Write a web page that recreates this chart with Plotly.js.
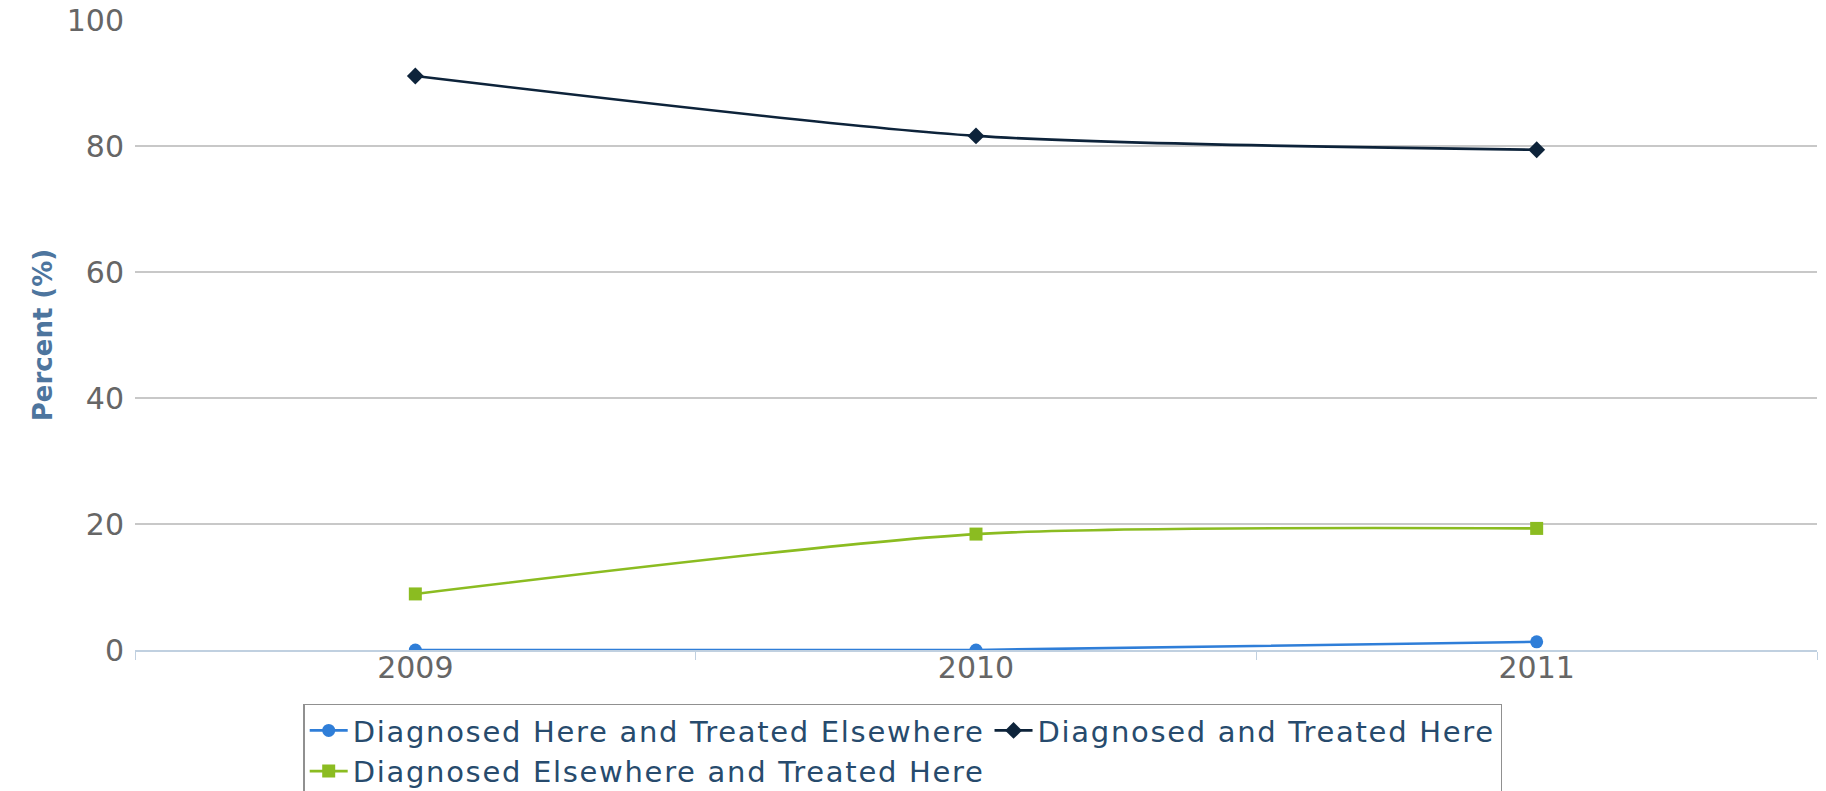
<!DOCTYPE html>
<html>
<head>
<meta charset="utf-8">
<script src="https://cdn.plot.ly/plotly-3.0.1.min.js"></script>
<style>
html,body{margin:0;padding:0;background:#fff;}
#chart{width:1826px;height:791px;}
.legendtext{letter-spacing:1.7px;}
</style>
</head>
<body>
<div id="chart"></div>
<script>
var years = ["2009", "2010", "2011"];
var seriesNames = ["Diagnosed Here and Treated Elsewhere", "Diagnosed and Treated Here", "Diagnosed Elsewhere and Treated Here"];
var hereElsewhere = [0, 0, 1.3];
var bothHere = [91.1, 81.6, 79.4];
var elsewhereHere = [8.9, 18.4, 19.3];
var yTicks = [0, 20, 40, 60, 80, 100];

var colors = ["#2f7ed8", "#0d233a", "#8bbc21"];
var symbols = ["circle", "diamond", "square"];
var values = [hereElsewhere, bothHere, elsewhereHere];

var traces = values.map(function (v, i) {
  return {
    x: years, y: v, name: seriesNames[i], type: "scatter", mode: "lines+markers",
    line: {color: colors[i], width: 2.6, shape: "spline", smoothing: 0.7},
    marker: {color: colors[i], symbol: symbols[i], size: 13},
    hoverinfo: "skip"
  };
});

var layout = {
  width: 1826, height: 791,
  margin: {l: 135, r: 9, t: 20, b: 141, autoexpand: false},
  paper_bgcolor: "#ffffff", plot_bgcolor: "#ffffff",
  font: {family: "DejaVu Sans", color: "#666666"},
  showlegend: true,
  xaxis: {
    type: "category", range: [-0.5, 2.5], tickvals: years, ticktext: years,
    tickson: "boundaries", ticks: "outside", ticklen: 8, tickcolor: "#C0D0E0", tickwidth: 1,
    ticklabelstandoff: -10,
    showline: true, linecolor: "#C0D0E0", linewidth: 1.5, showgrid: false, zeroline: false,
    tickfont: {family: "DejaVu Sans", size: 30, color: "#666666"}, fixedrange: true
  },
  yaxis: {
    range: [0, 100], tickvals: yTicks, ticktext: yTicks.map(String),
    showgrid: true, gridcolor: "#C8C8C8", gridwidth: 1.5, zeroline: false, showline: false,
    ticks: "", ticklabelstandoff: 10,
    tickfont: {family: "DejaVu Sans", size: 30, color: "#666666"},
    title: {text: "<b>Percent (%)</b>", font: {family: "DejaVu Sans", size: 26, color: "#4d759e"}, standoff: 6},
    fixedrange: true
  },
  legend: {
    orientation: "h", x: 0.1, xanchor: "left", y: -0.085, yanchor: "top",
    bordercolor: "#909090", borderwidth: 1.5, bgcolor: "#ffffff",
    font: {family: "DejaVu Sans", size: 29, color: "#274b6d"},
    itemsizing: "trace", itemwidth: 38, tracegroupgap: 0
  }
};

Plotly.newPlot("chart", traces, layout, {displayModeBar: false, staticPlot: true});
</script>
</body>
</html>
